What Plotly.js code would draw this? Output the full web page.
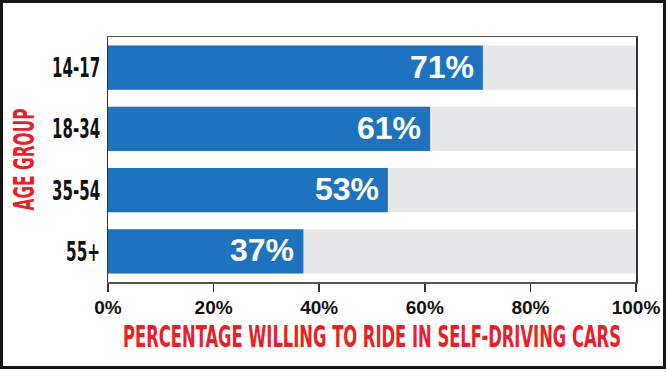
<!DOCTYPE html>
<html>
<head>
<meta charset="utf-8">
<script src="https://cdn.plot.ly/plotly-3.0.1.min.js"></script>
<style>
  html, body { margin: 0; padding: 0; background: #fff; }
  #wrap { position: relative; width: 670px; height: 372px; }
  #chart { position: absolute; left: 0; top: 0; width: 670px; height: 372px; }
  #frame { position: absolute; left: 0; top: 0; width: 666px; height: 369px;
           border: 3px solid #151515; box-sizing: border-box; pointer-events: none; }
</style>
</head>
<body>
<div id="wrap">
  <div id="chart"></div>
  <div id="frame"></div>
</div>
<script>
const categories = ["14-17", "18-34", "35-54", "55+"];
const values = [71, 61, 53, 37];
const fullScale = [100, 100, 100, 100];
const tickValues = [0, 20, 40, 60, 80, 100];
const tickLabels = ["0%", "20%", "40%", "60%", "80%", "100%"];
const xTitle = "PERCENTAGE WILLING TO RIDE IN SELF-DRIVING CARS";
const yTitle = "AGE GROUP";

const condensed = '"Liberation Sans Narrow", "DejaVu Sans Condensed", "Arial Narrow", sans-serif';
const bold = '"Liberation Sans", Arial, Helvetica, sans-serif';
const red = '#e8202a';

const traces = [
  {
    type: 'bar', orientation: 'h',
    x: fullScale, y: categories,
    marker: { color: '#e6e7e8' },
    hoverinfo: 'skip', showlegend: false
  },
  {
    type: 'bar', orientation: 'h',
    x: values, y: categories,
    marker: { color: '#1e73be' },
    showlegend: false
  }
];

const annotations = values.map((v, i) => ({
  x: v, y: categories[i], xref: 'x', yref: 'y',
  text: v + '%', showarrow: false,
  xanchor: 'right', yanchor: 'middle', xshift: -7, yshift: 1,
  font: { family: bold, size: 32, color: '#ffffff', weight: 'bold' }
}));

const layout = {
  width: 670, height: 372,
  margin: { l: 108, r: 34, t: 37, b: 90, pad: 0 },
  paper_bgcolor: '#ffffff', plot_bgcolor: '#ffffff',
  barmode: 'overlay', bargap: 0.28,
  xaxis: {
    range: [0, 100], tickvals: tickValues, ticktext: tickLabels,
    ticks: 'outside', ticklen: 8, tickwidth: 1.5, tickcolor: '#333',
    showgrid: false, zeroline: false,
    showline: true, linecolor: '#555', linewidth: 1.5, mirror: true,
    tickfont: { family: bold, size: 19, color: '#111', weight: 'bold' },
    title: { text: xTitle, standoff: 8,
             font: { family: condensed, size: 30, color: red, weight: 'bold' } },
    fixedrange: true
  },
  yaxis: {
    type: 'category', categoryorder: 'array', categoryarray: categories,
    autorange: 'reversed',
    showgrid: false, zeroline: false, ticks: '',
    showline: true, linecolor: '#333', linewidth: 1.5, mirror: true,
    ticklabelstandoff: 1,
    tickfont: { family: condensed, size: 27, color: '#111', weight: 'bold' },
    title: { text: yTitle,
             font: { family: condensed, size: 29, color: red, weight: 'bold' } },
    fixedrange: true
  },
  annotations: annotations
};

Plotly.newPlot('chart', traces, layout, { displayModeBar: false, staticPlot: true }).then(() => {
  // horizontally condense a text element (in its own text direction), like the reference's condensed face
  const squeeze = (el, len, anchor, dx) => {
    if (!el) return;
    const b = el.getBBox();
    if (!b.width) return;
    const s = len / b.width;
    const cx = anchor === 'end' ? b.x + b.width : b.x + b.width / 2;
    const prev = el.getAttribute('transform') || '';
    const pre = dx ? 'translate(' + dx + ',0) ' : '';
    el.setAttribute('transform',
      pre + prev + ' translate(' + cx + ',0) scale(' + s + ',1) translate(' + (-cx) + ',0)');
  };
  squeeze(document.querySelector('.xtitle'), 498, 'middle', 0);
  squeeze(document.querySelector('.ytitle'), 102, 'middle', 7);
  document.querySelectorAll('.ytick text').forEach(t => {
    const s = t.textContent;
    squeeze(t, s === '55+' ? 34 : 48, 'end', 0);
  });
});
</script>
</body>
</html>
